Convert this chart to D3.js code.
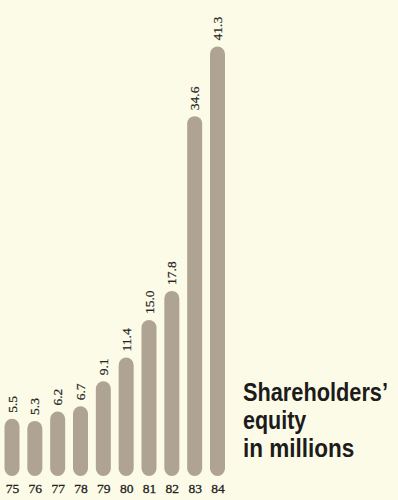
<!DOCTYPE html>
<html>
<head>
<meta charset="utf-8">
<script src="https://cdn.jsdelivr.net/npm/d3@7"></script>
<style>
  html, body { margin: 0; padding: 0; background: #fcfbe7; }
  svg { display: block; }
</style>
</head>
<body>
<svg id="chart" width="398" height="500"></svg>
<script>
// Shareholders' equity, fiscal years 1975–1984, in millions
const years = ["75", "76", "77", "78", "79", "80", "81", "82", "83", "84"];
const equity = [5.5, 5.3, 6.2, 6.7, 9.1, 11.4, 15.0, 17.8, 34.6, 41.3];
const valueLabels = ["5.5", "5.3", "6.2", "6.7", "9.1", "11.4", "15.0", "17.8", "34.6", "41.3"];
const titleLines = ["Shareholders\u2019", "equity", "in millions"];

const W = 398, H = 500;
const barWidth = 15;
const barColor = "#afa492";
const inkColor = "#232323";
const serif = "'Liberation Serif', 'DejaVu Serif', serif";

const svg = d3.select("#chart");

svg.append("rect")
  .attr("width", W).attr("height", H)
  .attr("fill", "#fcfbe7");

const x = d3.scalePoint()
  .domain(years)
  .range([12, 217.5]);

const y = d3.scaleLinear()
  .domain([0, 45])
  .range([476, 8]);

const rows = years.map((yr, i) => ({ yr, v: equity[i], label: valueLabels[i] }));

// rounded pill-shaped columns
svg.append("g")
  .selectAll("rect")
  .data(rows)
  .join("rect")
  .attr("x", d => x(d.yr) - barWidth / 2)
  .attr("y", d => y(d.v))
  .attr("width", barWidth)
  .attr("height", d => y(0) - y(d.v))
  .attr("rx", barWidth / 2)
  .attr("ry", barWidth / 2)
  .attr("fill", barColor);

// rotated value labels above each column
svg.append("g")
  .selectAll("text")
  .data(rows)
  .join("text")
  .attr("transform", d => `translate(${x(d.yr) + 4.5},${y(d.v) - 6}) rotate(-90)`)
  .attr("text-anchor", "start")
  .attr("font-family", serif)
  .attr("font-size", 13.5)
  .attr("fill", inkColor)
  .attr("stroke", inkColor)
  .attr("stroke-width", 0.2)
  .text(d => d.label);

// year axis along the bottom
const axis = d3.axisBottom(x).tickSize(0).tickPadding(0);
const axisG = svg.append("g")
  .attr("transform", "translate(0,483)")
  .call(axis);
axisG.select(".domain").remove();
axisG.selectAll("text")
  .attr("dy", "0.71em")
  .attr("y", 0)
  .attr("font-family", serif)
  .attr("font-size", 13.5)
  .attr("fill", inkColor)
  .attr("stroke", inkColor)
  .attr("stroke-width", 0.3);

// caption block, set in a condensed bold sans
const captionBaselines = [401, 429, 457];
const captionScale = [0.87, 0.86, 0.9];
svg.append("g")
  .attr("font-family", "'Liberation Sans', Arial, sans-serif")
  .attr("font-weight", "bold")
  .attr("font-size", 25)
  .attr("fill", "#1c1c1c")
  .selectAll("text")
  .data(titleLines)
  .join("text")
  .attr("transform", (d, i) => `translate(243,${captionBaselines[i]}) scale(${captionScale[i]},1)`)
  .text(d => d);
</script>
</body>
</html>
